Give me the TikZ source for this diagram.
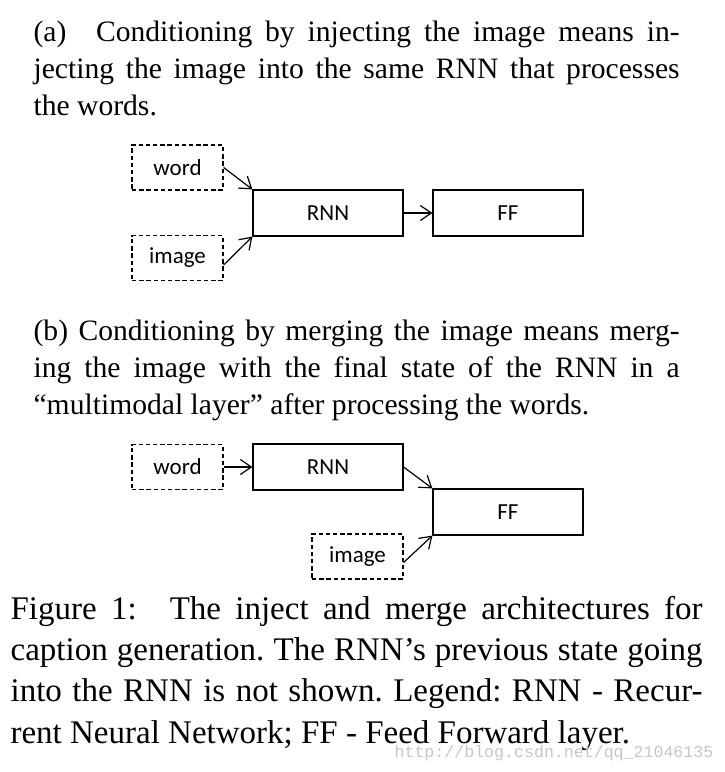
\documentclass[tikz,border=0pt]{standalone}
\usepackage{fontspec}
\setmainfont{Liberation Serif}
\newfontfamily\boxfont{Carlito}
\newfontfamily\markfont{Liberation Mono}
\usetikzlibrary{arrows.meta}
\tolerance=9999
\frenchspacing

\begin{document}
\begin{tikzpicture}[x=0.5pt,y=-0.5pt,line width=0.6pt]
\tikzstyle{block}=[draw, rectangle, inner sep=0pt, minimum width=75pt, minimum height=23pt, font=\boxfont\fontsize{11.5}{12}\selectfont]
\tikzstyle{input}=[block, dash pattern=on 2.2pt off 1.4pt, minimum width=45.5pt, minimum height=22.5pt]
\tikzstyle{link}=[-{Straight Barb[length=5.5pt,width=7.5pt]}]
\tikzstyle{para}=[anchor=base west, inner sep=0pt, text width=323pt, align=justify, font=\fontsize{14.8}{18.5}\selectfont]
\tikzstyle{caption}=[para, text width=346pt, font=\fontsize{16.5}{20.7}\selectfont]

\useasboundingbox (0,0) rectangle (724,772);

% (a) inject
\node[para] (textA) at (33,41) {(a)\hspace{1em}Conditioning by injecting the image means in-\linebreak
    jecting the image into the same RNN that processes\linebreak the words.};
\node[input] (wordA) at (177.5,167.5) {word};
\node[input] (imageA) at (177.5,258) {image};
\node[block] (rnnA) at (328,213) {RNN};
\node[block] (ffA) at (508,213) {FF};

\draw[link] (wordA.east) -- (rnnA.north west);
\draw[link] ([yshift=-3.5pt]imageA.east) -- (rnnA.south west);
\draw[link] (rnnA) -- (ffA);

% (b) merge
\node[para] (textB) at (33,340) {(b) Conditioning by merging the image means merg-\linebreak
    ing the image with the final state of the RNN in a\linebreak “multimodal layer” after processing the words.};
\node[input] (wordB) at (177.5,467) {word};
\node[block] (rnnB) at (328,467) {RNN};
\node[block] (ffB) at (508,512) {FF};
\node[input] (imageB) at (357.5,556.5) {image};

\draw[link] (wordB) -- (rnnB);
\draw[link] (rnnB.east) -- (ffB.north west);
\draw[link] ([yshift=-3pt]imageB.east) -- (ffB.south west);

% caption
\node[caption] (cap) at (10,619) {Figure 1:\hspace{1em}The inject and merge architectures for\linebreak
    caption generation. The RNN’s previous state going\linebreak
    into the RNN is not shown. Legend: RNN - Recur-\linebreak
    rent Neural Network; FF - Feed Forward layer.};
\node[anchor=base west, inner sep=0pt, text=gray!45, font=\markfont\fontsize{8.3}{10}\selectfont] (mark) at (394,757) {http://blog.csdn.net/qq\_21046135};
\end{tikzpicture}
\end{document}
